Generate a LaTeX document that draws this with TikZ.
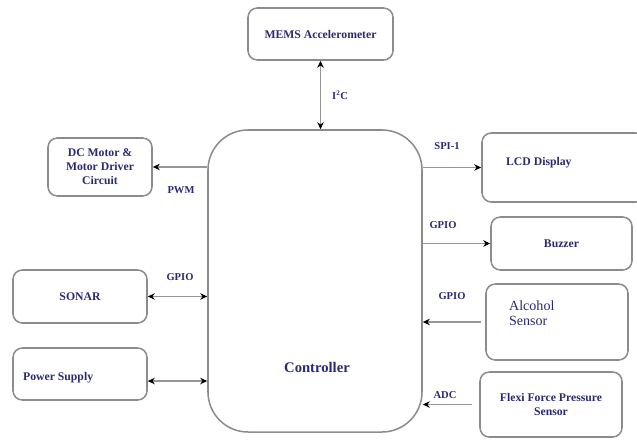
\documentclass[tikz,border=0pt]{standalone}
\usepackage{fontspec}
\setmainfont{Liberation Serif}
\usepackage{xcolor}
\usetikzlibrary{positioning,arrows.meta,shapes.geometric}

\definecolor{txtblue}{RGB}{42,42,112}
\definecolor{boxgray}{RGB}{140,140,140}
\definecolor{linegray}{RGB}{150,150,150}

\begin{document}
\begin{tikzpicture}[x=0.03cm,y=-0.03cm,
    block/.style={draw=boxgray,line width=1.3pt,rounded corners=8pt,fill=white,
        text=txtblue,font=\fontsize{10}{12}\selectfont\bfseries,align=center,inner sep=2pt},
    sig/.style={text=txtblue,font=\fontsize{9}{10}\selectfont\bfseries},
    link/.style={draw=linegray,line width=1.3pt,-{Stealth[length=6pt,width=5.5pt,color=black]}},
    dlink/.style={draw=linegray,line width=1.3pt,{Stealth[length=6pt,width=5.5pt,color=black]}-{Stealth[length=6pt,width=5.5pt,color=black]}}]

    \useasboundingbox (0,0) rectangle (637,441);

    % controller in the middle
    \node[block,minimum width=6.42cm,minimum height=9.06cm,rounded corners=1.2cm] (ctrl) at (315,281) {};
    \node[text=txtblue,font=\fontsize{12.5}{14}\selectfont\bfseries] (ctrltxt) at (317,367) {Controller};

    % blocks round it
    \node[block,minimum width=4.35cm,minimum height=1.56cm] (mems) at (320.5,34) {MEMS Accelerometer};
    \node[block,minimum width=3.12cm,minimum height=1.74cm] (dc) at (100,167) {DC Motor \&\\Motor Driver\\Circuit};
    \node[block,minimum width=4.89cm,minimum height=2.07cm] (lcd) at (563.5,167.5) {};
    \node[block,minimum width=4.23cm,minimum height=1.59cm] (buzz) at (561.5,243.5) {Buzzer};
    \node[block,minimum width=4.26cm,minimum height=2.28cm] (alc) at (557,322) {};
    \node[block,minimum width=4.26cm,minimum height=1.95cm] (flexi) at (551,404.5) {Flexi Force Pressure\\Sensor};
    \node[block,minimum width=4.02cm,minimum height=1.59cm] (sonar) at (80,296.5) {SONAR};
    \node[block,minimum width=4.02cm,minimum height=1.56cm] (pwr) at (80,374) {};

    % texts that sit to the left
    \node[text=txtblue,font=\fontsize{10}{12}\selectfont\bfseries,anchor=west] (lcdtxt) at (502,163) {LCD Display};
    \node[text=txtblue,font=\fontsize{12}{13}\selectfont,anchor=west,align=left] (alctxt) at (505,313) {Alcohol\\Sensor};
    \node[text=txtblue,font=\fontsize{10}{12}\selectfont\bfseries,anchor=west] (pwrtxt) at (19,378) {Power Supply};

    % connections
    \draw[dlink] (mems.south) -- (ctrl.north -| mems.south) node[sig,midway,right=6pt] {I\textsuperscript{2}C};
    \draw[link] (ctrl.west |- dc.east) -- (dc.east);
    \node[sig] (pwm) at (181,190) {PWM};
    \draw[link] (ctrl.east |- lcd.west) -- (lcd.west);
    \node[sig] (spi) at (447,146) {SPI-1};
    \draw[link] (ctrl.east |- buzz.west) -- (buzz.west);
    \node[sig] (gpiob) at (443,225) {GPIO};
    \draw[link] ([xshift=-4pt]alc.west) -- (ctrl.east |- alc.west);
    \node[sig] (gpioa) at (452,296) {GPIO};
    \draw[link] ([xshift=-6pt]flexi.west) -- (ctrl.east |- flexi.west);
    \node[sig] (adc) at (445,395) {ADC};
    \draw[dlink] (sonar.east) -- (ctrl.west |- sonar.east);
    \node[sig] (gpios) at (180,277) {GPIO};
    \coordinate (pwrout) at ([yshift=-6pt]pwr.east);
    \draw[dlink] (pwrout) -- (ctrl.west |- pwrout);
\end{tikzpicture}
\end{document}
